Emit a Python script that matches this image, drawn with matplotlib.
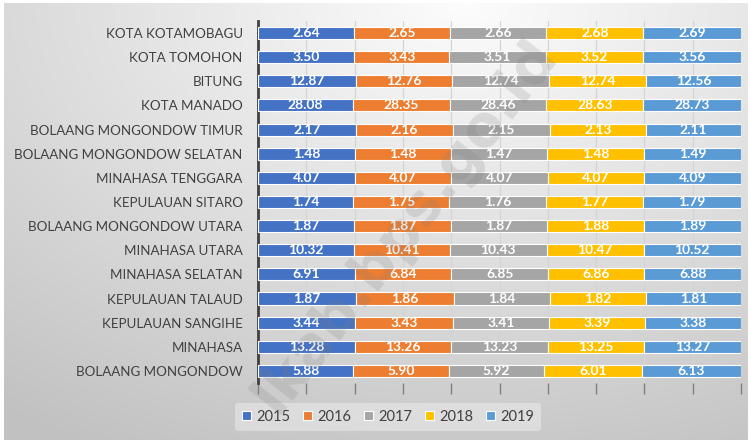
import numpy as np
import matplotlib.pyplot as plt

# ── Data (top → bottom as displayed) ───────────────────────────────────────────
regions = ["KOTA KOTAMOBAGU", "KOTA TOMOHON", "BITUNG", "KOTA MANADO",
           "BOLAANG MONGONDOW TIMUR", "BOLAANG MONGONDOW SELATAN",
           "MINAHASA TENGGARA", "KEPULAUAN SITARO", "BOLAANG MONGONDOW UTARA",
           "MINAHASA UTARA", "MINAHASA SELATAN", "KEPULAUAN TALAUD",
           "KEPULAUAN SANGIHE", "MINAHASA", "BOLAANG MONGONDOW"]
years = ["2015", "2016", "2017", "2018", "2019"]
v2015 = [2.64, 3.50, 12.87, 28.08, 2.17, 1.48, 4.07, 1.74, 1.87, 10.32, 6.91, 1.87, 3.44, 13.28, 5.88]
v2016 = [2.65, 3.43, 12.76, 28.35, 2.16, 1.48, 4.07, 1.75, 1.87, 10.41, 6.84, 1.86, 3.43, 13.26, 5.90]
v2017 = [2.66, 3.51, 12.74, 28.46, 2.15, 1.47, 4.07, 1.76, 1.87, 10.43, 6.85, 1.84, 3.41, 13.23, 5.92]
v2018 = [2.68, 3.52, 12.74, 28.63, 2.13, 1.48, 4.07, 1.77, 1.88, 10.47, 6.86, 1.82, 3.39, 13.25, 6.01]
v2019 = [2.69, 3.56, 12.56, 28.73, 2.11, 1.49, 4.09, 1.79, 1.89, 10.52, 6.88, 1.81, 3.38, 13.27, 6.13]
colors = ["#4472C4", "#ED7D31", "#A5A5A5", "#FFC000", "#5B9BD5"]

plt.rcParams["font.family"] = ["Lato", "DejaVu Sans"]

fig = plt.figure(figsize=(7.51, 4.44), dpi=100)

# ── Gradient background panel ─────────────────────────────────────────────────
bg = fig.add_axes([4 / 751, 4 / 444, 744 / 751, 437 / 444], zorder=-2)
xx, yy = np.meshgrid(np.linspace(0, 1, 300), np.linspace(0, 1, 200))
r = np.sqrt(((xx - 0.62) / 1.0) ** 2 + ((yy - 1.0) / 1.1) ** 2)
shade = np.clip(0.99 - 0.22 * r, 0.76, 0.99)
bg.imshow(np.dstack([shade] * 3), origin="lower", aspect="auto", extent=(0, 1, 0, 1))
bg.set_axis_off()

# ── Stacked 100% bars ─────────────────────────────────────────────────────────
ax = fig.add_axes([258 / 751, 1 - 383 / 444, 483 / 751, 362 / 444])
ax.patch.set_alpha(0)

series = np.array([v2015, v2016, v2017, v2018, v2019])
pct = series / series.sum(axis=0) * 100
y = np.arange(len(regions))
left = np.zeros(len(regions))
for i, yr in enumerate(years):
    ax.barh(y, pct[i], left=left, height=0.5, color=colors[i],
            edgecolor="white", linewidth=0.8, label=yr, zorder=3)
    for j in range(len(regions)):
        ax.text(left[j] + pct[i][j] / 2, y[j], f"{series[i][j]:.2f}",
                ha="center", va="center", color="white", fontsize=10,
                fontweight="bold", zorder=4)
    left += pct[i]

ax.set_xlim(0, 100)
ax.set_ylim(len(regions) - 0.5, -0.5)
ax.set_yticks(y)
ax.set_yticklabels(regions, fontsize=9.6, color="#404040")
ax.tick_params(axis="y", length=0, pad=11)
ax.set_xticks(np.arange(0, 101, 10))
ax.set_xticklabels([])
ax.tick_params(axis="x", length=8, direction="out", color="#808080", width=1)
ax.grid(axis="x", color="#d4d4d4", linewidth=0.9, zorder=0)
for s in ["top", "right", "bottom"]:
    ax.spines[s].set_visible(False)
ax.spines["left"].set_color("#404040")
ax.spines["left"].set_linewidth(2)

leg = fig.legend(loc="center", bbox_to_anchor=(388 / 751, 1 - 417 / 444), ncol=5,
                 fontsize=10.5, frameon=True, handlelength=0.6, handleheight=0.6,
                 handletextpad=0.35, columnspacing=0.9, borderpad=0.5)
leg.get_frame().set_facecolor("white")
leg.get_frame().set_alpha(0.35)
leg.get_frame().set_edgecolor("none")
for t in leg.get_texts():
    t.set_color("#404040")

# watermark over everything
fig.text(405 / 751, 1 - 226 / 444, "lkab.bps.go.id", rotation=52,
         fontsize=41, fontweight="bold", family="DejaVu Sans",
         color="#808080", alpha=0.2, ha="center", va="center", zorder=10)

fig.savefig("out.png", dpi=100)
